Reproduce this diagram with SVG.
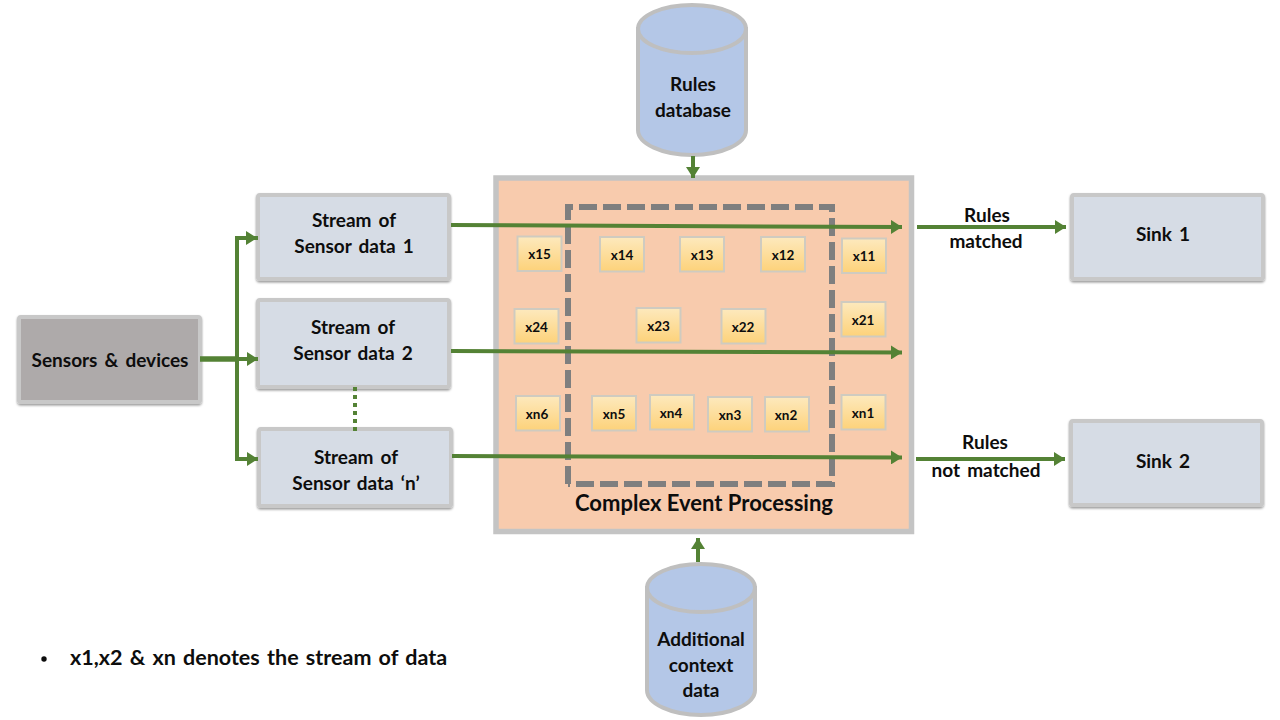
<svg xmlns="http://www.w3.org/2000/svg" width="1280" height="720" viewBox="0 0 1280 720">
<style>
text{font-family:"Lato","Open Sans","Liberation Sans",sans-serif;font-weight:700;fill:#0d0d0d;text-anchor:middle}
.lbl{font-size:19px;word-spacing:2.500px}
.sm{font-size:13.500px}
.box{fill:#d6dce5;stroke:#c8c8c8;stroke-width:4;filter:url(#sh)}
.cell{fill:url(#cell);stroke:#cfcbc0;stroke-width:2}
.db{fill:#b4c7e7;stroke:#bfbfbf;stroke-width:4}
.w{fill:none;stroke:#548235;stroke-width:4}
</style>
<defs>
<linearGradient id="cell" x1="0" y1="0" x2="0" y2="1"><stop offset="0" stop-color="#fde9bd"/><stop offset="1" stop-color="#fdd27a"/></linearGradient>
<filter id="sh" x="-5%" y="-5%" width="110%" height="112%"><feDropShadow dx="0" dy="1.500" stdDeviation="1" flood-color="#000" flood-opacity=".4"/></filter>
<marker id="ah" markerUnits="userSpaceOnUse" markerWidth="12" markerHeight="14" refX="11" refY="7" orient="auto"><path d="M0 0L11 7L0 14Z" fill="#548235"/></marker>
</defs>
<rect width="1280" height="720" fill="#fff"/>

<g id="cep">
<rect x="496" y="178" width="415.500" height="353.500" fill="#f8cbad" stroke="#c4c4c4" stroke-width="5.500"/>
<path d="M568 484V207H832V484H568" fill="none" stroke="#7f7f7f" stroke-width="6" stroke-dasharray="18 6"/>
<text x="704" y="511" font-size="22">Complex Event Processing</text>
</g>

<g id="sensors"><rect class="box" x="19" y="317" width="181" height="85" rx="2" style="fill:#aeaaaa"/><text class="lbl" x="110" y="367">Sensors &amp; devices</text></g>
<g id="stream1"><rect class="box" x="258" y="195" width="191" height="84" rx="2"/><text class="lbl" x="354" y="227">Stream of</text><text class="lbl" x="354" y="253">Sensor data 1</text></g>
<g id="stream2"><rect class="box" x="258" y="300" width="191" height="87" rx="2"/><text class="lbl" x="353" y="334">Stream of</text><text class="lbl" x="353" y="360">Sensor data 2</text></g>
<g id="streamn"><rect class="box" x="259" y="429" width="192" height="77" rx="2"/><text class="lbl" x="356" y="464">Stream of</text><text class="lbl" x="356" y="490">Sensor data ‘n’</text></g>
<g id="sink1"><rect class="box" x="1072" y="195" width="191" height="84" rx="2"/><text class="lbl" x="1163" y="241">Sink 1</text></g>
<g id="sink2"><rect class="box" x="1071" y="421" width="191" height="84" rx="2"/><text class="lbl" x="1163" y="468">Sink 2</text></g>

<g id="rules-db">
<path class="db" d="M638 29V130A54 25 0 0 0 746 130V29Z"/><ellipse class="db" cx="692" cy="29" rx="54" ry="24"/>
<text class="lbl" x="693" y="91">Rules</text><text class="lbl" x="693" y="117">database</text>
</g>
<g id="context-db">
<path class="db" d="M647 588V690A54 25 0 0 0 755 690V588Z"/><ellipse class="db" cx="701" cy="588" rx="54" ry="24"/>
<text class="lbl" x="701" y="646">Additional</text><text class="lbl" x="701" y="672">context</text><text class="lbl" x="701" y="697">data</text>
</g>

<g id="cells">
<g id="x15"><rect class="cell" x="517.500" y="236.500" width="44" height="34.500"/><text class="sm" x="539.500" y="259">x15</text></g>
<g id="x14"><rect class="cell" x="600" y="237" width="44" height="34.500"/><text class="sm" x="622" y="260">x14</text></g>
<g id="x13"><rect class="cell" x="680" y="237" width="44" height="34.500"/><text class="sm" x="702" y="260">x13</text></g>
<g id="x12"><rect class="cell" x="761" y="237" width="44" height="34.500"/><text class="sm" x="783" y="260">x12</text></g>
<g id="x11"><rect class="cell" x="842" y="238.500" width="44" height="34.500"/><text class="sm" x="864" y="261">x11</text></g>
<g id="x24"><rect class="cell" x="514.500" y="309" width="44" height="34.500"/><text class="sm" x="536.500" y="332">x24</text></g>
<g id="x23"><rect class="cell" x="636.500" y="308" width="44" height="34.500"/><text class="sm" x="658.500" y="331">x23</text></g>
<g id="x22"><rect class="cell" x="721.500" y="309" width="44" height="34.500"/><text class="sm" x="743" y="332">x22</text></g>
<g id="x21"><rect class="cell" x="841.500" y="302" width="44" height="34.500"/><text class="sm" x="863" y="325">x21</text></g>
<g id="xn6"><rect class="cell" x="516" y="396" width="44" height="34.500"/><text class="sm" x="537" y="419">xn6</text></g>
<g id="xn5"><rect class="cell" x="592" y="396" width="44" height="34.500"/><text class="sm" x="614" y="419">xn5</text></g>
<g id="xn4"><rect class="cell" x="650" y="395" width="44" height="34.500"/><text class="sm" x="671" y="418">xn4</text></g>
<g id="xn3"><rect class="cell" x="708" y="397" width="44" height="34.500"/><text class="sm" x="730" y="420">xn3</text></g>
<g id="xn2"><rect class="cell" x="765" y="397" width="44" height="34.500"/><text class="sm" x="786" y="420">xn2</text></g>
<g id="xn1"><rect class="cell" x="841.500" y="395" width="44" height="34.500"/><text class="sm" x="863" y="418">xn1</text></g>
</g>

<g id="connectors">
<path class="w" d="M451 225L902 227" marker-end="url(#ah)"/>
<path class="w" d="M451 351L902 352.500" marker-end="url(#ah)"/>
<path class="w" d="M452 456L902 457.500" marker-end="url(#ah)"/>
<path class="w" d="M917 227H1066" marker-end="url(#ah)"/>
<path class="w" d="M916 459H1065" marker-end="url(#ah)"/>
<path class="w" d="M200 359H238" style="stroke-width:5.500"/>
<path class="w" d="M238 359H258" marker-end="url(#ah)"/>
<path class="w" d="M258 238H237V459H258" marker-end="url(#ah)"/>
<path class="w" d="M238 238H257" marker-end="url(#ah)"/>
<path class="w" d="M693 156V178" marker-end="url(#ah)"/>
<path class="w" d="M698 562V538" marker-end="url(#ah)"/>
<path class="w" d="M355 387V431" style="stroke-dasharray:4 4"/>
</g>

<g id="edge-labels">
<text class="lbl" x="987" y="222">Rules</text><text class="lbl" x="986" y="248">matched</text>
<text class="lbl" x="985" y="449">Rules</text><text class="lbl" x="986" y="477">not matched</text>
</g>

<g id="note">
<circle cx="44" cy="659" r="2.700" fill="#0d0d0d"/>
<text x="70" y="665" font-size="21.500" style="text-anchor:start;word-spacing:2px">x1,x2 &amp; xn denotes the stream of data</text>
</g>
</svg>
